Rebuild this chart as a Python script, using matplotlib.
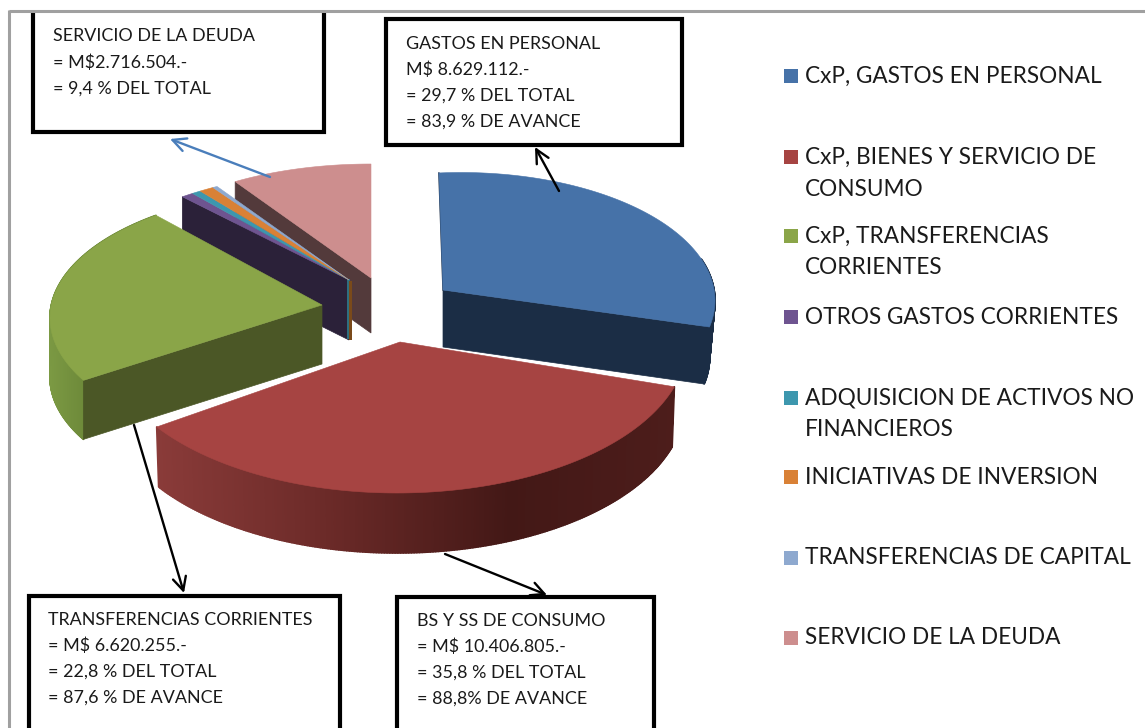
import numpy as np
import matplotlib
matplotlib.use('Agg')
import matplotlib.pyplot as plt
from matplotlib.collections import PolyCollection
from matplotlib.colors import to_rgb
from matplotlib.patches import Rectangle, Polygon

plt.rcParams['font.family'] = ['Lato', 'DejaVu Sans']

# gasto por subtitulo, M$ (los cuatro chicos estimados de la figura)
categories = ['CxP, GASTOS EN PERSONAL', 'CxP, BIENES Y SERVICIO DE\nCONSUMO',
              'CxP, TRANSFERENCIAS\nCORRIENTES', 'OTROS GASTOS CORRIENTES',
              'ADQUISICION DE ACTIVOS NO\nFINANCIEROS', 'INICIATIVAS DE INVERSION',
              'TRANSFERENCIAS DE CAPITAL', 'SERVICIO DE LA DEUDA']
values = [8629112, 10406805, 6620255, 205000, 150000, 240000, 75000, 2716504]
colors = ['#4672a8', '#a64442', '#8aa548', '#6e5490', '#3d97ae', '#d98136', '#8ea9cf', '#cd8e8e']
legend_y = [76, 157, 236, 317, 398, 477, 558, 638]

box_deuda = ['SERVICIO DE LA DEUDA', '= M$2.716.504.-', '= 9,4 % DEL TOTAL']
box_personal = ['GASTOS EN PERSONAL', 'M$ 8.629.112.-', '= 29,7 % DEL TOTAL', '= 83,9 % DE AVANCE']
box_transf = ['TRANSFERENCIAS CORRIENTES', '= M$ 6.620.255.-', '= 22,8 % DEL TOTAL', '= 87,6 % DE AVANCE']
box_bienes = ['BS Y SS DE CONSUMO', '= M$ 10.406.805.-', '= 35,8 % DEL TOTAL', '= 88,8% DE AVANCE']

fig = plt.figure(figsize=(11.45, 7.28), dpi=100)
ax = fig.add_axes([0, 0, 1, 1])
ax.set_xlim(0, 1145)
ax.set_ylim(728, 0)
ax.axis('off')

angles = np.cumsum([0] + values) / sum(values) * 360


def ramp(x, stops):
    xs = [s[0] for s in stops]
    rgb = np.array([to_rgb(s[1]) for s in stops])
    return np.column_stack([np.interp(x, xs, rgb[:, i]) for i in range(3)])


def draw_slice(i, apex, center, radii, offset, depth, face=None, face_color=None, wall=None, lean=1.0, wall_from=0, z=2):
    """Porcion extruida: arco en perspectiva + pared + cara radial"""
    t = np.radians(np.linspace(angles[i] + offset, angles[i + 1] + offset, 240))
    x = center[0] + radii[0] * np.sin(t)
    y = center[1] - radii[1] * np.cos(t)
    xb = apex[0] + (x - apex[0]) * lean
    yb = y + depth
    if wall is not None:
        quads = [[(x[k], y[k]), (x[k + 1], y[k + 1]), (xb[k + 1], yb[k + 1]), (xb[k], yb[k])]
                 for k in range(wall_from, 239)]
        c = ramp(np.array([q[0][0] for q in quads]), wall)
        ax.add_collection(PolyCollection(quads, facecolors=c, edgecolors=c, linewidths=1.2, zorder=z))
    if face is not None:
        k = 0 if face == 'start' else -1
        ax.add_patch(Polygon([apex, (x[k], y[k]), (xb[k], yb[k]), (apex[0], apex[1] + depth)],
                             fc=face_color, ec=face_color, lw=0.5, zorder=z + 0.1))
    return x, y


def draw_top(i, apex, x, y, z=2.2):
    ax.add_patch(Polygon(np.vstack([[apex], np.column_stack([x, y])]), fc=colors[i], ec=colors[i], lw=0.4, zorder=z))


# servicio de la deuda
a = (371, 278)
x, y = draw_slice(7, a, (371, 269), (245, 105), 0, 55, 'start', '#533a3b')
draw_top(7, a, x, y)

# los cuatro chicos: una sola pared oscura y sus tapas
a = (349, 280)
c, r = (385, 283), (303, 116)
draw_slice(3, a, c, r, 0, 60, 'start', '#2b2139', z=3)
ax.add_patch(Rectangle((347, 279), 2.5, 60, fc='#2f6f7f', ec='none', zorder=3.2))
ax.add_patch(Rectangle((349, 281), 2.5, 59, fc='#7a4a1a', ec='none', zorder=3.2))
for i in range(3, 7):
    t = np.radians(np.linspace(angles[i], angles[i + 1], 12))
    x = c[0] + r[0] * np.sin(t)
    y = c[1] - r[1] * np.cos(t)
    draw_top(i, a, x, y, z=3.3)

# transferencias corrientes
a = (322, 305)
x, y = draw_slice(2, a, (316, 318), (266, 128.5), 5, 59, 'start', '#4b5726',
                  wall=[(50, '#7b9943'), (90, '#6b8738')], z=4)
draw_top(2, a, x, y, z=4.2)

# gastos en personal
a = (443, 290)
x, y = draw_slice(0, a, (461, 300.5), (254, 128), -5, 57, 'end', '#1b2d45',
                  wall=[(440, '#1b2d45'), (720, '#1b2d45')], lean=0.98, wall_from=170, z=5)
draw_top(0, a, x, y, z=5.2)
ax.plot([x[0], a[0]], [y[0], a[1]], color='#1b2d45', lw=1, zorder=5.1)

# bienes y servicios
a = (400, 342)
x, y = draw_slice(1, a, (397, 343), (290, 150), 0, 60,
                  wall=[(157, '#8a3b39'), (330, '#6b2a28'), (510, '#431816'), (675, '#4d1d1b')],
                  lean=0.992, z=6)
draw_top(1, a, x, y, z=6.2)


def note(lines, left, right, top, bottom, tx, ty, step, fs):
    ax.add_patch(Rectangle((left, top), right - left, bottom - top, fc='white', ec='black', lw=3, zorder=7))
    for n, line in enumerate(lines):
        ax.text(tx, ty + n * step, line, fontsize=fs, color='#1a1a1a', va='center', ha='left', zorder=8)


note(box_deuda, 33, 324, 4, 132, 53, 36, 26.3, 12.9)
note(box_personal, 386, 682, 19, 145, 406, 44, 26, 12.9)
note(box_transf, 29, 340, 596, 760, 48, 620, 26, 12.9)
note(box_bienes, 397, 654, 597, 760, 417, 621, 26, 12.9)

# marco gris de la figura
ax.add_patch(Rectangle((0, 0), 1145, 10, fc='white', ec='none', zorder=9))
ax.plot([8.5, 1145], [11, 11], color='#a0a0a0', lw=2.2, zorder=10, solid_capstyle='butt')
ax.plot([8.5, 8.5], [10, 728], color='#a0a0a0', lw=2.2, zorder=10, solid_capstyle='butt')

for tip, tail, col in [((535, 147), (559, 191), 'black'), ((184, 593), (134, 425), 'black'),
                       ((547, 595), (445, 554), 'black'), ((170, 139), (270, 177), '#4a7ebb')]:
    ax.annotate('', xy=tip, xytext=tail, zorder=9,
                arrowprops=dict(arrowstyle='->', color=col, lw=1.7, mutation_scale=24, shrinkA=0, shrinkB=0))

for name, col, ly in zip(categories, colors, legend_y):
    ax.add_patch(Rectangle((784, ly - 7), 14, 14, fc=col, ec='none'))
    for n, part in enumerate(name.split('\n')):
        ax.text(805, ly + n * 32, part, fontsize=16.3, color='#1a1a1a', va='center', ha='left')

fig.savefig('out.png', dpi=100)
